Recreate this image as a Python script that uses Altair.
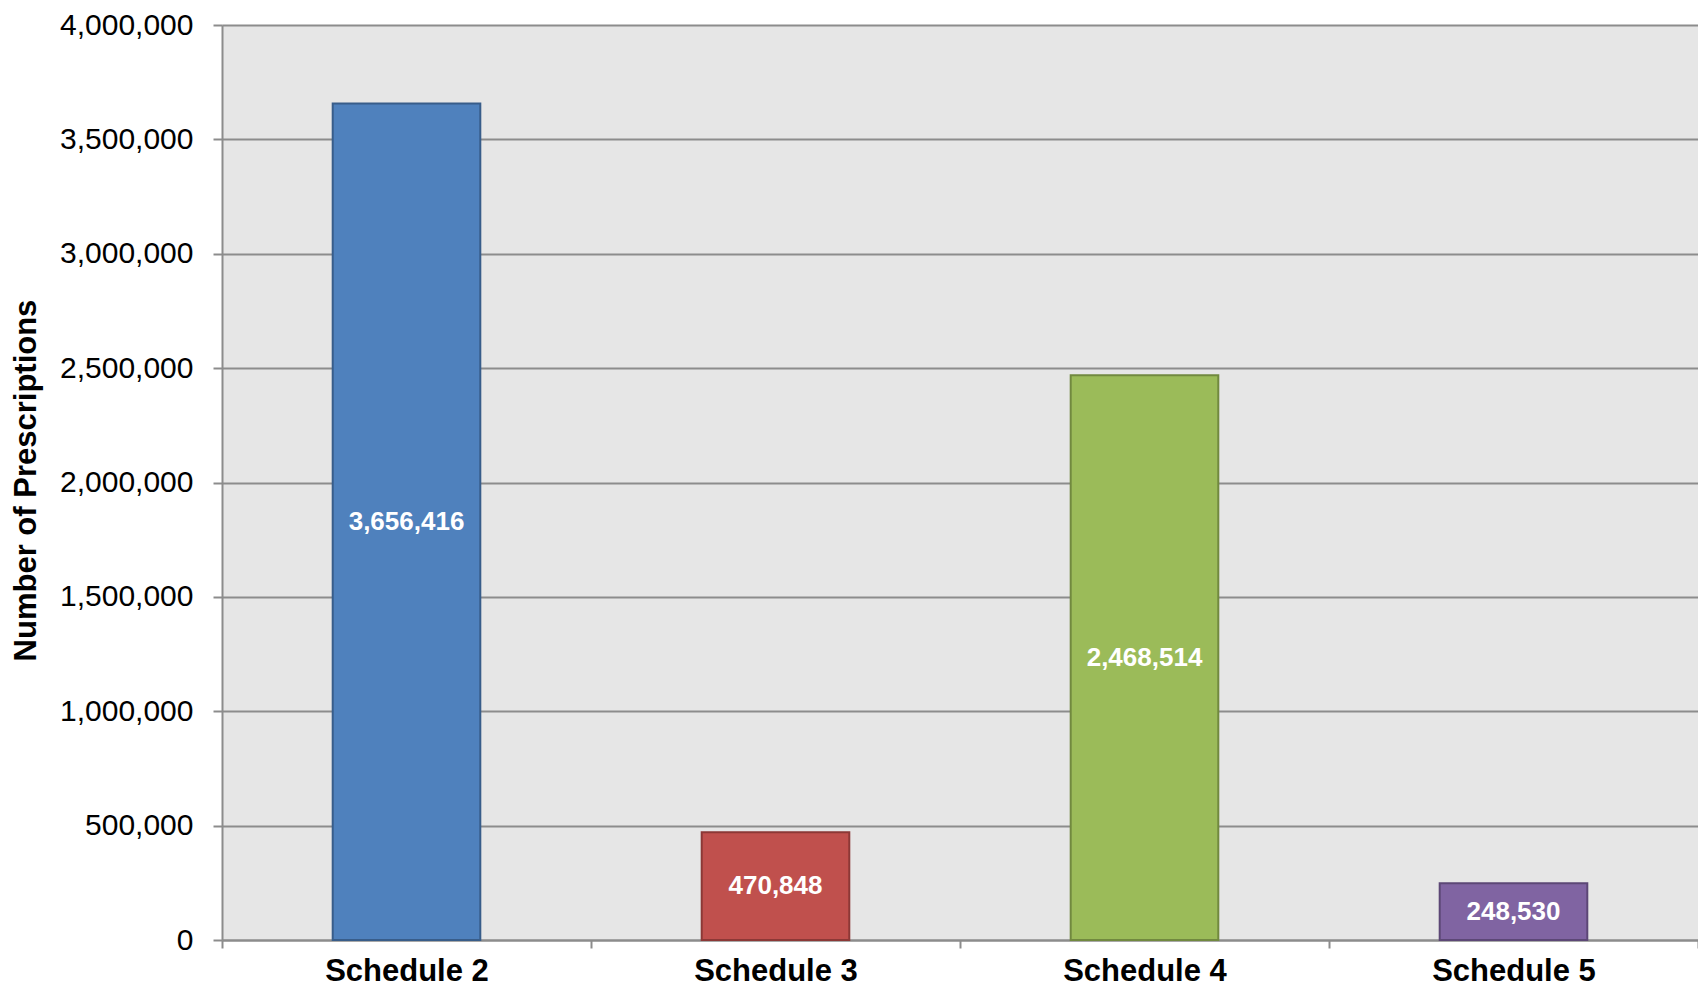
import altair as alt
import pandas as pd

categories = ["Schedule 2", "Schedule 3", "Schedule 4", "Schedule 5"]
prescriptions = [3656416, 470848, 2468514, 248530]
y_ticks = [0, 500000, 1000000, 1500000, 2000000, 2500000, 3000000, 3500000, 4000000]

fill_colors = ["#4F81BD", "#C0504D", "#9BBB59", "#8064A2"]
stroke_colors = ["#385D8A", "#8C3836", "#71893F", "#5C4776"]

df = pd.DataFrame({"schedule": categories, "count": prescriptions})

W, H = 1476, 915
FONT = "Liberation Sans"
GRID = "#8c8c8c"

x_axis = alt.Axis(
    title=None, labelAngle=0, labelFont=FONT, labelFontSize=31,
    labelFontWeight="bold", labelColor="black", labelPadding=8,
    tickBand="extent", ticks=True, tickSize=8, tickColor=GRID, tickWidth=2,
    domainColor=GRID, domainWidth=2, grid=False,
)
x_scale = alt.Scale(paddingInner=0, paddingOuter=0)

y_axis = alt.Axis(
    values=y_ticks, labelExpr="format(datum.value, ',')",
    title="Number of Prescriptions",
    titleFont=FONT, titleFontSize=31, titleFontWeight="bold", titleColor="black",
    titleAngle=270, titleAlign="center", titleBaseline="middle",
    titleX=-196, titleY=455,
    labelFont=FONT, labelFontSize=30, labelColor="black", labelPadding=20,
    tickSize=9, tickColor=GRID, tickWidth=2,
    domainColor=GRID, domainWidth=2,
    grid=True, gridColor=GRID, gridWidth=2,
)
y_scale = alt.Scale(domain=[0, 4000000], nice=False)

bars = alt.Chart(df).mark_bar(strokeWidth=2, width=alt.RelativeBandSize(0.4)).encode(
    x=alt.X("schedule:N", sort=categories, scale=x_scale, axis=x_axis),
    y=alt.Y("count:Q", scale=y_scale, axis=y_axis),
    color=alt.Color("schedule:N", scale=alt.Scale(domain=categories, range=fill_colors), legend=None),
    stroke=alt.Stroke("schedule:N", scale=alt.Scale(domain=categories, range=stroke_colors), legend=None),
)

labels = alt.Chart(df).transform_calculate(mid="datum.count / 2").mark_text(
    color="white", font=FONT, fontSize=26, fontWeight="bold", baseline="middle", align="center"
).encode(
    x=alt.X("schedule:N", sort=categories, scale=x_scale, axis=x_axis),
    y=alt.Y("mid:Q", scale=y_scale, axis=y_axis),
    text=alt.Text("count:Q", format=","),
)

chart = alt.layer(bars, labels).properties(
    width=W, height=H,
    padding={"left": 214, "top": 17, "right": 0, "bottom": 54},
    autosize=alt.AutoSizeParams(type="none"),
    background="white",
).configure_view(fill="#e6e6e6", strokeWidth=0)

chart.save("out.html", embed_options={"renderer": "svg", "actions": False})
